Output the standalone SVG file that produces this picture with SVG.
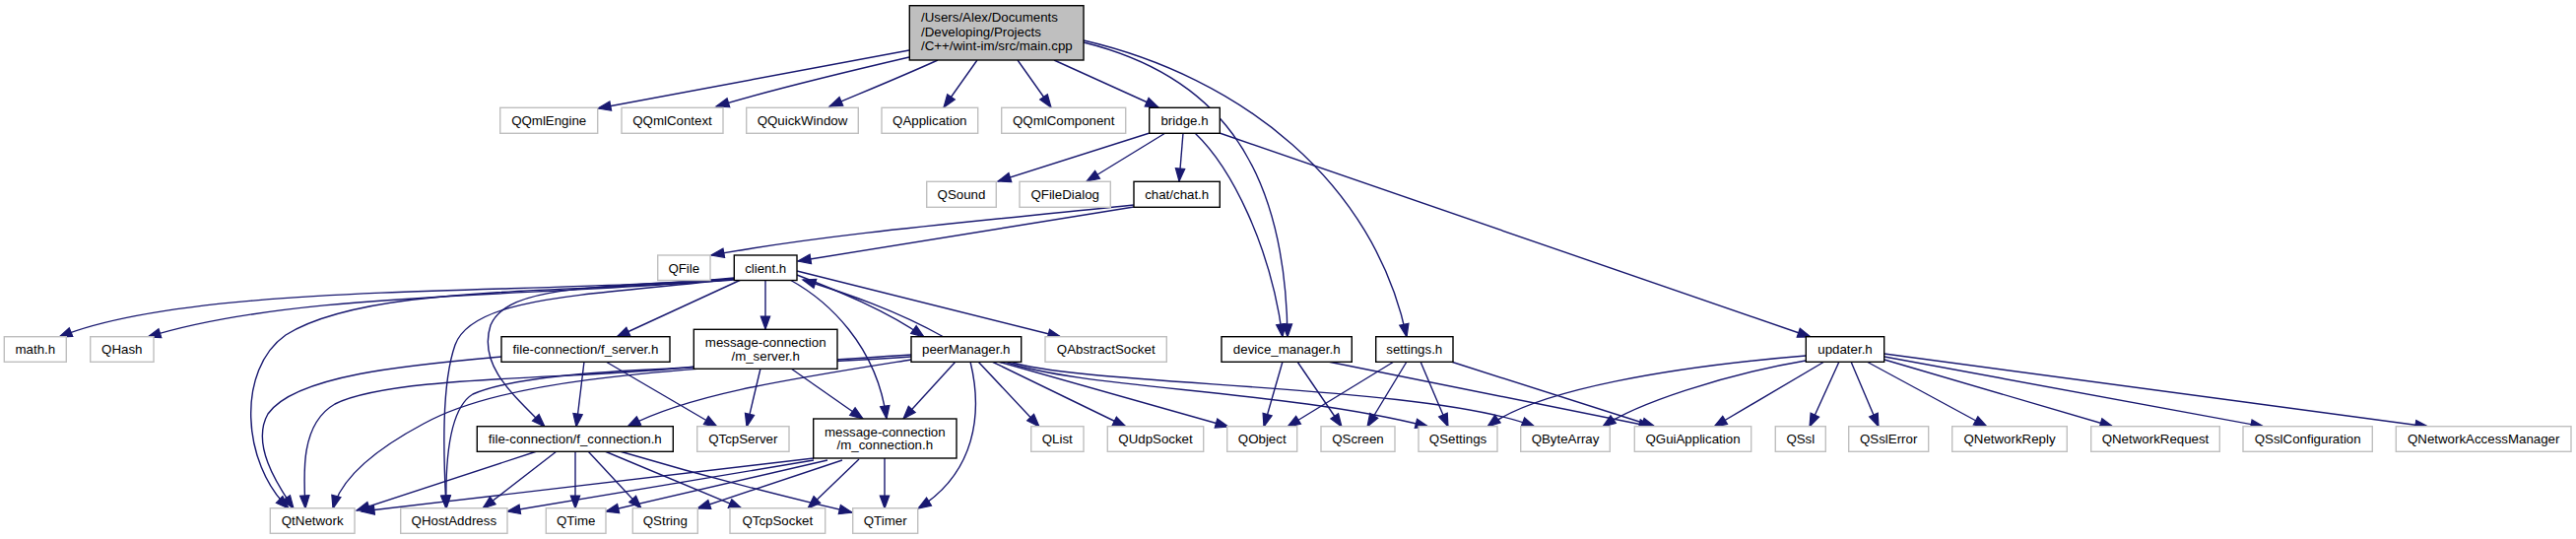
<svg xmlns="http://www.w3.org/2000/svg" width="2615" height="547" viewBox="0 0 2615 547">
<style>
rect{stroke-width:1.4}
.g rect{fill:#fff;stroke:#bfbfbf}
.b rect{fill:#fff;stroke:#000}
.r rect{fill:#bfbfbf;stroke:#000}
text{font-family:"Liberation Sans",Arial,Helvetica,sans-serif;font-size:13.3px;fill:#000;text-anchor:middle}
.r text{text-anchor:start}
#edges path{fill:none;stroke:#191970;stroke-width:1.4;marker-end:url(#ah)}
</style>
<defs>
<marker id="ah" markerUnits="userSpaceOnUse" markerWidth="16" markerHeight="12" refX="14" refY="6" orient="auto">
<path d="M1,1.3 L14,6 L1,10.7 z" fill="#191970" stroke="#191970" stroke-width="1.2"/>
</marker>
</defs>
<rect width="2615" height="547" fill="#fff"/>
<g id="edges">
<path d="M923,51 L607,110"/>
<path d="M923,58 C850,75 780,92 727,108"/>
<path d="M952,61 C910,80 870,96 842,108"/>
<path d="M992,61 L958,109"/>
<path d="M1033,61 L1067,109"/>
<path d="M1070,61 L1176,109"/>
<path d="M1100,43 C1230,75 1305,160 1307,342"/>
<path d="M1100,41 C1260,78 1395,185 1428,342"/>
<path d="M1167,135 L1013,184"/>
<path d="M1183,135 L1103,184"/>
<path d="M1201,135 L1197,184"/>
<path d="M1213,135 C1250,170 1290,250 1302,342"/>
<path d="M1238,135 L1838,342"/>
<path d="M1151,208 C1000,224 850,236 722,259"/>
<path d="M1151,210 L810,265"/>
<path d="M745,282 C550,300 200,285 60,342"/>
<path d="M745,283 C550,302 300,295 150,342"/>
<path d="M745,284 C560,298 370,290 290,340 C240,375 245,470 293,516"/>
<path d="M745,283 C600,300 480,300 462,350 C448,390 450,460 453,516"/>
<path d="M745,283 C600,292 515,290 498,330 C485,370 520,400 553,433"/>
<path d="M752,284 L626,342"/>
<path d="M777,284 L777,334"/>
<path d="M802,284 C840,305 890,350 900,425"/>
<path d="M809,279 C850,295 900,315 938,342"/>
<path d="M958,342 C910,315 860,298 815,284"/>
<path d="M809,275 L1077,342"/>
<path d="M509,362 C420,370 300,380 272,420 C255,450 280,490 298,516"/>
<path d="M593,367 L585,433"/>
<path d="M615,367 L728,433"/>
<path d="M772,374 L758,433"/>
<path d="M803,374 L876,425"/>
<path d="M705,372 C600,385 400,380 340,410 C305,430 308,480 310,516"/>
<path d="M925,365 C800,385 700,400 637,433"/>
<path d="M925,360 C700,375 520,380 430,430 C370,462 345,490 338,516"/>
<path d="M925,362 C750,375 550,370 480,400 C455,415 452,470 453,516"/>
<path d="M970,367 L917,425"/>
<path d="M985,367 C998,420 990,480 932,516"/>
<path d="M993,367 L1055,433"/>
<path d="M1007,367 L1143,433"/>
<path d="M1013,367 L1247,433"/>
<path d="M1020,367 C1100,395 1300,395 1450,433"/>
<path d="M1025,367 C1100,392 1450,390 1558,433"/>
<path d="M1302,367 L1283,433"/>
<path d="M1317,367 L1362,433"/>
<path d="M1348,367 L1677,433"/>
<path d="M1415,367 L1307,433"/>
<path d="M1428,367 L1388,433"/>
<path d="M1442,367 L1470,433"/>
<path d="M1473,367 L1680,433"/>
<path d="M1833,361 C1700,372 1560,395 1510,433"/>
<path d="M1833,366 C1750,380 1660,410 1627,433"/>
<path d="M1852,367 L1740,433"/>
<path d="M1867,367 L1837,433"/>
<path d="M1879,367 L1907,433"/>
<path d="M1895,367 L2017,433"/>
<path d="M1913,365 L2145,433"/>
<path d="M1913,362 L2298,433"/>
<path d="M1913,359 L2465,433"/>
<path d="M545,458 L362,518"/>
<path d="M565,458 L490,516"/>
<path d="M584,458 L584,516"/>
<path d="M597,458 L651,516"/>
<path d="M614,458 L753,516"/>
<path d="M629,458 C720,485 800,505 865,520"/>
<path d="M826,465 L367,519"/>
<path d="M826,467 L515,519"/>
<path d="M840,467 L615,519"/>
<path d="M855,467 L708,516"/>
<path d="M872,466 L820,516"/>
<path d="M898,465 L898,516"/>
</g>
<g id="node-main" class="r"><rect x="923.3" y="5.7" width="176.7" height="55.3"/><text x="935" y="22.3">/Users/Alex/Documents</text><text x="935" y="36.6">/Developing/Projects</text><text x="935" y="50.8">/C++/wint-im/src/main.cpp</text></g>
<g id="node-QQmlEngine" class="g"><rect x="507.7" y="109.3" width="99" height="26"/><text x="557.2" y="127">QQmlEngine</text></g>
<g id="node-QQmlContext" class="g"><rect x="631" y="109.3" width="103" height="26"/><text x="682.5" y="127">QQmlContext</text></g>
<g id="node-QQuickWindow" class="g"><rect x="757.7" y="109.3" width="113.6" height="26"/><text x="814.5" y="127">QQuickWindow</text></g>
<g id="node-QApplication" class="g"><rect x="895" y="109.3" width="97.7" height="26"/><text x="943.8" y="127">QApplication</text></g>
<g id="node-QQmlComponent" class="g"><rect x="1016.7" y="109.3" width="126" height="26"/><text x="1079.7" y="127">QQmlComponent</text></g>
<g id="node-bridge" class="b"><rect x="1166.7" y="109.3" width="71.6" height="26"/><text x="1202.5" y="127">bridge.h</text></g>
<g id="node-QSound" class="g"><rect x="940.7" y="184.3" width="70.6" height="26"/><text x="976" y="202">QSound</text></g>
<g id="node-QFileDialog" class="g"><rect x="1035" y="184.3" width="92.3" height="26"/><text x="1081.2" y="202">QFileDialog</text></g>
<g id="node-chat" class="b"><rect x="1151" y="184.3" width="87.3" height="26"/><text x="1194.7" y="202">chat/chat.h</text></g>
<g id="node-QFile" class="g"><rect x="667.7" y="259" width="53.3" height="25.5"/><text x="694.3" y="276.5">QFile</text></g>
<g id="node-client" class="b"><rect x="745.3" y="259" width="63.7" height="25.5"/><text x="777.2" y="276.5">client.h</text></g>
<g id="node-math" class="g"><rect x="4.3" y="341.7" width="63" height="25.6"/><text x="35.8" y="359.3">math.h</text></g>
<g id="node-QHash" class="g"><rect x="91.7" y="341.7" width="64.3" height="25.6"/><text x="123.8" y="359.3">QHash</text></g>
<g id="node-f_server" class="b"><rect x="509" y="341.7" width="171" height="25.6"/><text x="594.5" y="359.3">file-connection/f_server.h</text></g>
<g id="node-m_server" class="b"><rect x="704.3" y="334.3" width="145.7" height="40"/><text x="777.2" y="351.7">message-connection</text><text x="777.2" y="365.5">/m_server.h</text></g>
<g id="node-peerManager" class="b"><rect x="925" y="341.7" width="111.7" height="25.6"/><text x="980.8" y="359.3">peerManager.h</text></g>
<g id="node-QAbstractSocket" class="g"><rect x="1061" y="341.7" width="123.3" height="25.6"/><text x="1122.7" y="359.3">QAbstractSocket</text></g>
<g id="node-device_manager" class="b"><rect x="1240" y="341.7" width="132.3" height="25.6"/><text x="1306.2" y="359.3">device_manager.h</text></g>
<g id="node-settings" class="b"><rect x="1396.7" y="341.7" width="78.3" height="25.6"/><text x="1435.8" y="359.3">settings.h</text></g>
<g id="node-updater" class="b"><rect x="1833.3" y="341.7" width="79.4" height="25.6"/><text x="1873" y="359.3">updater.h</text></g>
<g id="node-f_connection" class="b"><rect x="484.3" y="432.7" width="199" height="25.6"/><text x="583.8" y="450.3">file-connection/f_connection.h</text></g>
<g id="node-QTcpServer" class="g"><rect x="707.7" y="432.7" width="93.3" height="25.6"/><text x="754.3" y="450.3">QTcpServer</text></g>
<g id="node-m_connection" class="b"><rect x="825.7" y="425" width="145.3" height="40"/><text x="898.3" y="442.5">message-connection</text><text x="898.3" y="456.3">/m_connection.h</text></g>
<g id="node-QList" class="g"><rect x="1046.7" y="432.7" width="53.3" height="25.6"/><text x="1073.3" y="450.3">QList</text></g>
<g id="node-QUdpSocket" class="g"><rect x="1124.3" y="432.7" width="97.4" height="25.6"/><text x="1173" y="450.3">QUdpSocket</text></g>
<g id="node-QObject" class="g"><rect x="1245.7" y="432.7" width="71" height="25.6"/><text x="1281.2" y="450.3">QObject</text></g>
<g id="node-QScreen" class="g"><rect x="1341" y="432.7" width="75" height="25.6"/><text x="1378.5" y="450.3">QScreen</text></g>
<g id="node-QSettings" class="g"><rect x="1440" y="432.7" width="80" height="25.6"/><text x="1480" y="450.3">QSettings</text></g>
<g id="node-QByteArray" class="g"><rect x="1543.7" y="432.7" width="90.6" height="25.6"/><text x="1589" y="450.3">QByteArray</text></g>
<g id="node-QGuiApplication" class="g"><rect x="1659.3" y="432.7" width="118.4" height="25.6"/><text x="1718.5" y="450.3">QGuiApplication</text></g>
<g id="node-QSsl" class="g"><rect x="1802.3" y="432.7" width="51" height="25.6"/><text x="1827.8" y="450.3">QSsl</text></g>
<g id="node-QSslError" class="g"><rect x="1876.7" y="432.7" width="81" height="25.6"/><text x="1917.2" y="450.3">QSslError</text></g>
<g id="node-QNetworkReply" class="g"><rect x="1981.7" y="432.7" width="116.6" height="25.6"/><text x="2040" y="450.3">QNetworkReply</text></g>
<g id="node-QNetworkRequest" class="g"><rect x="2122.7" y="432.7" width="130.6" height="25.6"/><text x="2188" y="450.3">QNetworkRequest</text></g>
<g id="node-QSslConfiguration" class="g"><rect x="2277" y="432.7" width="131.3" height="25.6"/><text x="2342.7" y="450.3">QSslConfiguration</text></g>
<g id="node-QNetworkAccessManager" class="g"><rect x="2432.3" y="432.7" width="177.7" height="25.6"/><text x="2521.2" y="450.3">QNetworkAccessManager</text></g>
<g id="node-QtNetwork" class="g"><rect x="274.3" y="515.7" width="85.7" height="25.6"/><text x="317.2" y="533.3">QtNetwork</text></g>
<g id="node-QHostAddress" class="g"><rect x="406.7" y="515.7" width="108.3" height="25.6"/><text x="460.8" y="533.3">QHostAddress</text></g>
<g id="node-QTime" class="g"><rect x="554.3" y="515.7" width="60.7" height="25.6"/><text x="584.7" y="533.3">QTime</text></g>
<g id="node-QString" class="g"><rect x="642.3" y="515.7" width="66" height="25.6"/><text x="675.3" y="533.3">QString</text></g>
<g id="node-QTcpSocket" class="g"><rect x="741" y="515.7" width="96.7" height="25.6"/><text x="789.3" y="533.3">QTcpSocket</text></g>
<g id="node-QTimer" class="g"><rect x="865.7" y="515.7" width="66" height="25.6"/><text x="898.7" y="533.3">QTimer</text></g>
</svg>
